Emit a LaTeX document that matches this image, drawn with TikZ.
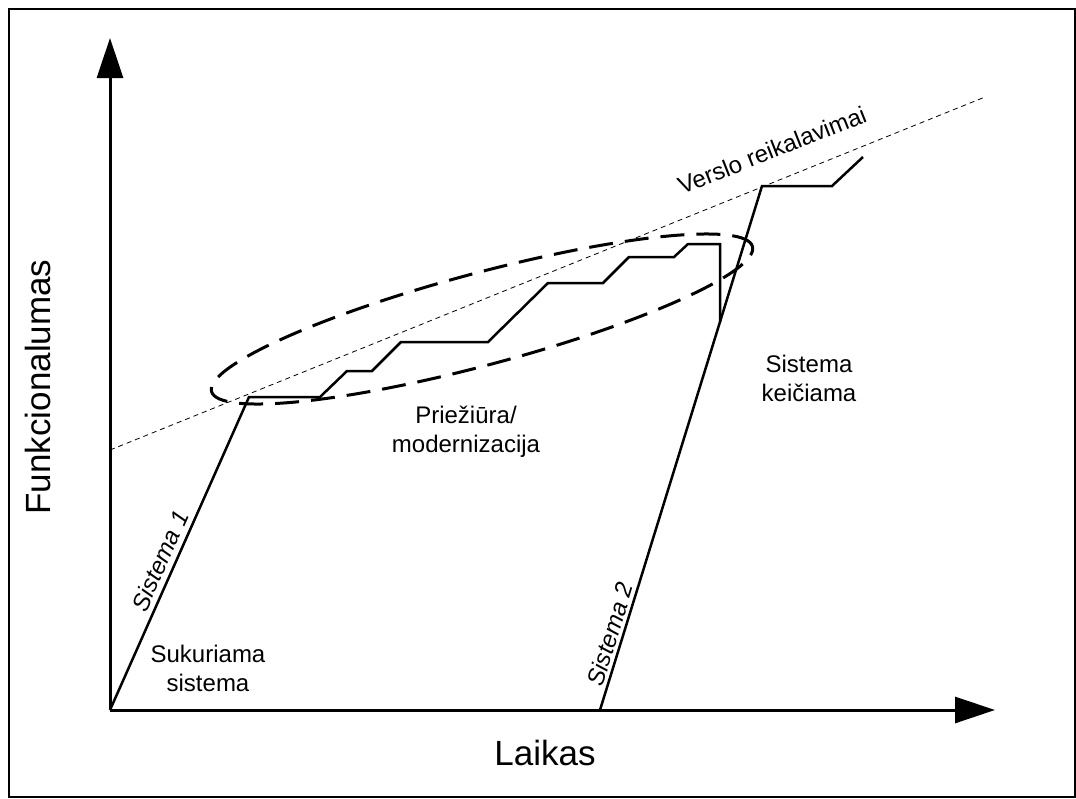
\documentclass[tikz,border=0pt]{standalone}
\usepackage{fontspec}
\setmainfont{Liberation Sans}
\usetikzlibrary{arrows.meta}
\begin{document}
\begin{tikzpicture}[x=1pt,y=-1pt,
  axis/.style={line width=3pt,-{Triangle[length=40pt,width=26pt]}},
  curve/.style={line width=2.5pt,line join=miter},
  req/.style={line width=0.8pt,dash pattern=on 5pt off 4pt},
  zone/.style={line width=3pt,dash pattern=on 24pt off 12pt},
  lbl/.style={font=\fontsize{24}{29}\selectfont,align=center,inner sep=0pt},
  slant/.style={lbl,font=\fontsize{24}{29}\selectfont\itshape},
  big/.style={font=\fontsize{35}{42}\selectfont,inner sep=0pt}]
\useasboundingbox (0,0) rectangle (1076,798);
% outer frame
\draw[line width=2pt] (9,9) rectangle (1075,797);

% axes
\coordinate (O) at (110,710);
\coordinate (ytip) at (110,38);
\coordinate (xtip) at (995,710);
\draw[axis] (O) -- (ytip);
\draw[axis] (O) -- (xtip);

% business requirements trend
\coordinate (reqA) at (110,450);
\coordinate (reqB) at (985,97);
\draw[req] (reqA) -- (reqB);

% system 1: build-up, then step-wise maintenance
\coordinate (s1top) at (249,397);
\coordinate (s1end) at (720,244);
\coordinate (s1drop) at (720,322);
\draw[curve] (O) -- (s1top) -- (320,397) -- (347,371) -- (372,371) -- (401,342)
  -- (488,342) -- (548,283) -- (603,283) -- (629,257) -- (674,257) -- (688,244)
  -- (s1end) -- (s1drop);

% system 2: replacement
\coordinate (s2start) at (600,710);
\coordinate (s2top) at (762,186);
\coordinate (s2end) at (863,157);
\draw[curve] (s2start) -- (s2top) -- (832,186) -- (s2end);

% maintenance zone
\coordinate (zc) at (482,319);
\draw[zone, rotate around={15:(zc)}] (zc) ellipse [x radius=280pt, y radius=46pt];

% labels
\node[big, rotate=90] (ylab) at (38,387) {Funkcionalumas};
\node[big] (xlab) at (545,753) {Laikas};
\node[lbl] (build) at (208,668) {Sukuriama\\sistema};
\node[lbl] (maint) at (466,432) {Priežiūra/\\modernizacija};
\node[lbl] (swap) at (809,378) {Sistema\\keičiama};
\node[slant, rotate=66] (sys1) at (160,561) {Sistema 1};
\node[slant, rotate=73] (sys2) at (610,634) {Sistema 2};
\node[lbl, rotate=21.5] (reqlab) at (772,150) {Verslo reikalavimai};
\end{tikzpicture}
\end{document}
